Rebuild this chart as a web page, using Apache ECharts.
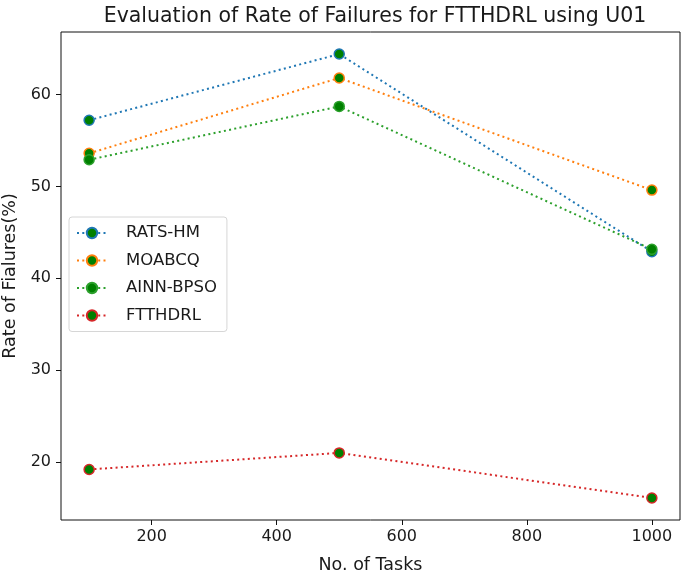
<!DOCTYPE html>
<html>
<head>
<meta charset="utf-8">
<script src="https://cdn.jsdelivr.net/npm/echarts@6/dist/echarts.min.js"></script>
<style>html,body{margin:0;padding:0;background:#fff}#c{width:685px;height:574px}</style>
</head>
<body>
<div id="c"></div>
<script>
const tasks = [100, 500, 1000];
const ratsHm = [57.2, 64.4, 42.9];
const moabcq = [53.6, 61.8, 49.6];
const ainnBpso = [52.9, 58.7, 43.15];
const ftthdrl = [19.2, 21.0, 16.1];
const xTicks = [200, 400, 600, 800, 1000];
const yTicks = [20, 30, 40, 50, 60];
const seriesNames = ['RATS-HM', 'MOABCQ', 'AINN-BPSO', 'FTTHDRL'];
const seriesData = [ratsHm, moabcq, ainnBpso, ftthdrl];
const colors = ['#1f77b4', '#ff7f0e', '#2ca02c', '#d62728'];

const font = 'DejaVu Sans';
const chart = echarts.init(document.getElementById('c'), null, {renderer: 'canvas'});
chart.setOption({
  animation: false,
  backgroundColor: '#ffffff',
  title: {
    text: 'Evaluation of Rate of Failures for FTTHDRL using U01',
    left: 370, top: 1, textAlign: 'center',
    textStyle: {fontFamily: font, fontSize: 20.5, fontWeight: 'normal', color: '#1a1a1a'}
  },
  grid: {left: 61, right: 5, top: 32, bottom: 54, show: true, borderColor: '#111', borderWidth: 1, backgroundColor: 'transparent', containLabel: false, outerBoundsMode: 'none'},
  legend: {
    orient: 'vertical', left: 69, top: 217,
    data: seriesNames,
    backgroundColor: '#fff', borderColor: '#d6d6d6', borderWidth: 1, borderRadius: 3,
    padding: [7, 10, 7, 7], itemGap: 9.5, itemWidth: 30, itemHeight: 13,
    textStyle: {fontFamily: font, fontSize: 16.5, lineHeight: 18, color: '#1a1a1a', padding: [0, 0, 0, 14]}
  },
  xAxis: {
    type: 'value', min: 55, max: 1045,
    name: 'No. of Tasks', nameLocation: 'middle', nameGap: 36,
    nameTextStyle: {fontFamily: font, fontSize: 17.5, color: '#1a1a1a'},
    axisLine: {show: false},
    axisTick: {show: true, length: 5, lineStyle: {color: '#111'}, customValues: xTicks},
    axisLabel: {fontFamily: font, fontSize: 16, color: '#1a1a1a', margin: 9, customValues: xTicks, formatter: v => String(v)},
    splitLine: {show: false}
  },
  yAxis: {
    type: 'value', min: 13.7, max: 66.8,
    name: 'Rate of Fialures(%)', nameLocation: 'middle', nameGap: 41,
    nameTextStyle: {fontFamily: font, fontSize: 17.5, color: '#1a1a1a'},
    axisLine: {show: false},
    axisTick: {show: true, length: 5, lineStyle: {color: '#111'}, customValues: yTicks},
    axisLabel: {fontFamily: font, fontSize: 16, color: '#1a1a1a', margin: 10, customValues: yTicks, formatter: v => String(v)},
    splitLine: {show: false}
  },
  series: seriesNames.map((n, i) => ({
    name: n, type: 'line',
    data: tasks.map((t, j) => [t, seriesData[i][j]]),
    symbol: 'circle', symbolSize: 10,
    lineStyle: {color: colors[i], width: 2, type: [2, 3.3]},
    itemStyle: {color: '#008000', borderColor: colors[i], borderWidth: 1.5},
    color: colors[i]
  }))
});
</script>
</body>
</html>
